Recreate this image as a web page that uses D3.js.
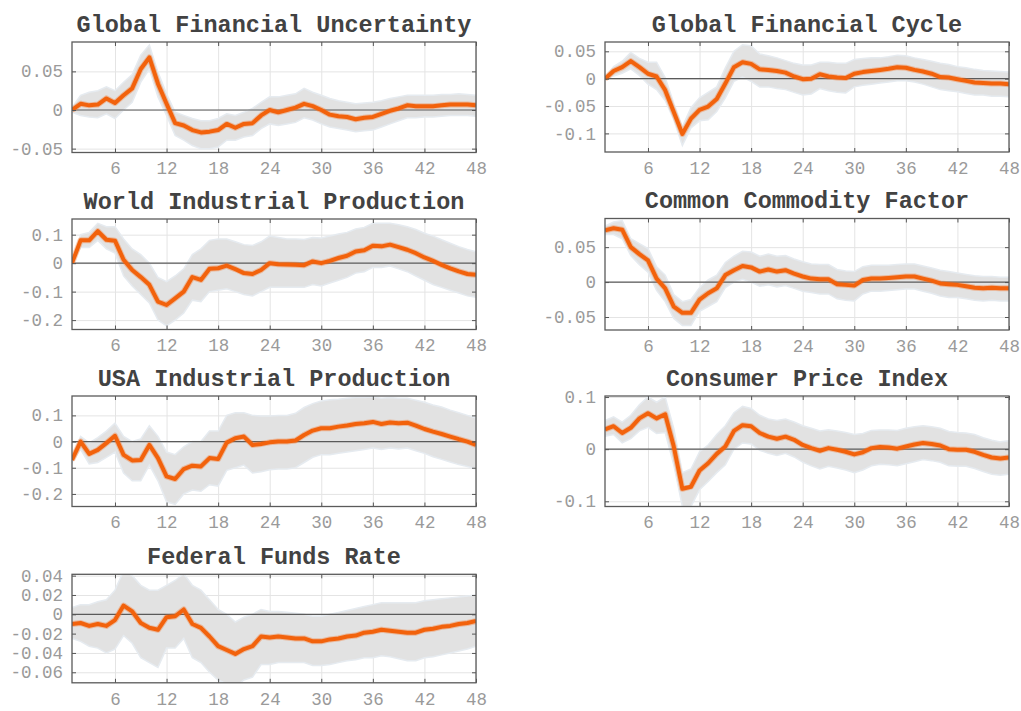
<!DOCTYPE html>
<html>
<head>
<meta charset="utf-8">
<script src="https://cdn.jsdelivr.net/npm/d3@7"></script>
<style>
  html, body { margin: 0; padding: 0; background: #fff; }
  svg { display: block; }
</style>
</head>
<body>
<svg id="chart" width="1021" height="711"></svg>
<script>
// Impulse responses over a 48-month horizon: median with credible band.
const horizons = d3.range(1, 49);
const xTicks = [6, 12, 18, 24, 30, 36, 42, 48];

// Global Financial Uncertainty
const gfuMid = [0.000,0.008,0.006,0.007,0.015,0.009,0.019,0.028,0.053,0.068,0.034,0.008,-0.017,-0.020,-0.026,-0.029,-0.028,-0.026,-0.018,-0.023,-0.018,-0.017,-0.007,0.000,-0.003,0.000,0.003,0.008,0.005,0.000,-0.006,-0.008,-0.009,-0.012,-0.010,-0.009,-0.005,-0.001,0.002,0.006,0.005,0.005,0.005,0.006,0.007,0.007,0.007,0.006];
const gfuHi  = [0.003,0.019,0.023,0.025,0.030,0.025,0.036,0.046,0.071,0.084,0.049,0.021,-0.003,-0.007,-0.011,-0.014,-0.014,-0.011,-0.005,-0.007,-0.003,0.002,0.010,0.017,0.017,0.019,0.021,0.028,0.023,0.019,0.015,0.012,0.010,0.008,0.009,0.010,0.012,0.015,0.017,0.019,0.019,0.019,0.019,0.020,0.020,0.021,0.020,0.019];
const gfuLo  = [-0.003,-0.007,-0.009,-0.010,-0.005,-0.011,0.000,0.010,0.036,0.053,0.017,-0.007,-0.033,-0.039,-0.046,-0.050,-0.050,-0.048,-0.039,-0.039,-0.035,-0.033,-0.024,-0.018,-0.020,-0.018,-0.016,-0.010,-0.013,-0.018,-0.022,-0.024,-0.026,-0.028,-0.027,-0.026,-0.022,-0.018,-0.014,-0.010,-0.010,-0.009,-0.009,-0.008,-0.007,-0.007,-0.007,-0.008];
const gfuTicks = [-0.05, 0, 0.05];

// Global Financial Cycle
const gfcMid = [0.000,0.014,0.021,0.032,0.021,0.009,0.004,-0.021,-0.061,-0.101,-0.073,-0.057,-0.051,-0.037,-0.009,0.021,0.030,0.027,0.017,0.016,0.014,0.011,0.004,-0.001,0.000,0.008,0.004,0.002,0.001,0.009,0.012,0.014,0.016,0.018,0.021,0.020,0.016,0.013,0.009,0.003,0.002,-0.001,-0.004,-0.007,-0.008,-0.009,-0.009,-0.010];
const gfcHi  = [0.002,0.022,0.032,0.048,0.037,0.030,0.030,0.002,-0.045,-0.088,-0.053,-0.035,-0.025,-0.015,0.020,0.050,0.062,0.060,0.045,0.042,0.038,0.033,0.028,0.025,0.025,0.030,0.030,0.028,0.028,0.035,0.037,0.038,0.038,0.040,0.043,0.042,0.038,0.035,0.032,0.028,0.026,0.022,0.020,0.017,0.015,0.014,0.013,0.012];
const gfcLo  = [-0.002,0.005,0.010,0.018,0.006,-0.010,-0.020,-0.040,-0.075,-0.122,-0.090,-0.077,-0.075,-0.060,-0.035,-0.005,0.003,-0.005,-0.015,-0.015,-0.018,-0.020,-0.025,-0.030,-0.028,-0.018,-0.022,-0.025,-0.026,-0.015,-0.012,-0.010,-0.008,-0.006,-0.004,-0.004,-0.006,-0.010,-0.015,-0.020,-0.022,-0.024,-0.027,-0.030,-0.030,-0.032,-0.032,-0.033];
const gfcTicks = [-0.1, -0.05, 0, 0.05];

// World Industrial Production
const wipMid = [0.000,0.080,0.080,0.112,0.082,0.079,0.012,-0.024,-0.049,-0.076,-0.135,-0.147,-0.124,-0.100,-0.049,-0.059,-0.020,-0.018,-0.009,-0.021,-0.035,-0.038,-0.024,0.000,-0.004,-0.005,-0.006,-0.007,0.006,0.000,0.008,0.018,0.026,0.041,0.045,0.061,0.059,0.065,0.056,0.047,0.035,0.020,0.008,-0.006,-0.018,-0.029,-0.038,-0.041];
const wipHi  = [0.003,0.100,0.108,0.140,0.128,0.128,0.085,0.050,0.030,0.000,-0.050,-0.065,-0.045,-0.020,0.030,0.050,0.080,0.085,0.085,0.075,0.065,0.062,0.075,0.095,0.090,0.085,0.085,0.083,0.090,0.088,0.095,0.102,0.108,0.120,0.125,0.140,0.140,0.140,0.135,0.128,0.118,0.105,0.095,0.082,0.070,0.058,0.048,0.040];
const wipLo  = [-0.003,0.055,0.055,0.080,0.050,0.035,-0.045,-0.080,-0.110,-0.140,-0.200,-0.220,-0.200,-0.175,-0.130,-0.135,-0.100,-0.095,-0.090,-0.100,-0.110,-0.115,-0.100,-0.085,-0.085,-0.085,-0.085,-0.085,-0.075,-0.080,-0.070,-0.060,-0.050,-0.035,-0.030,-0.015,-0.015,-0.010,-0.020,-0.030,-0.045,-0.060,-0.075,-0.085,-0.095,-0.105,-0.115,-0.120];
const wipTicks = [-0.2, -0.1, 0, 0.1];

// Common Commodity Factor
const ccfMid = [0.074,0.077,0.075,0.050,0.040,0.031,0.005,-0.009,-0.035,-0.044,-0.044,-0.025,-0.016,-0.009,0.010,0.017,0.023,0.021,0.015,0.018,0.015,0.017,0.012,0.008,0.005,0.004,0.004,-0.003,-0.004,-0.005,0.003,0.005,0.005,0.006,0.007,0.008,0.008,0.005,0.002,-0.002,-0.003,-0.004,-0.006,-0.008,-0.009,-0.008,-0.009,-0.009];
const ccfHi  = [0.080,0.086,0.088,0.062,0.055,0.048,0.022,0.010,-0.018,-0.028,-0.025,-0.008,0.003,0.010,0.028,0.037,0.044,0.043,0.037,0.040,0.037,0.038,0.033,0.029,0.026,0.025,0.025,0.018,0.016,0.015,0.022,0.024,0.024,0.024,0.025,0.026,0.026,0.023,0.020,0.017,0.015,0.013,0.011,0.009,0.008,0.008,0.007,0.007];
const ccfLo  = [0.068,0.068,0.062,0.038,0.025,0.014,-0.012,-0.028,-0.052,-0.062,-0.062,-0.042,-0.035,-0.028,-0.008,0.000,0.004,0.000,-0.006,-0.004,-0.007,-0.005,-0.009,-0.013,-0.015,-0.017,-0.017,-0.024,-0.026,-0.027,-0.017,-0.013,-0.013,-0.012,-0.011,-0.010,-0.010,-0.013,-0.016,-0.020,-0.022,-0.022,-0.024,-0.026,-0.027,-0.026,-0.027,-0.027];
const ccfTicks = [-0.05, 0, 0.05];

// USA Industrial Production
const uipMid = [-0.070,0.000,-0.047,-0.032,-0.006,0.022,-0.051,-0.072,-0.070,-0.013,-0.063,-0.133,-0.143,-0.105,-0.092,-0.095,-0.063,-0.067,-0.004,0.013,0.019,-0.013,-0.009,-0.003,0.000,0.000,0.004,0.025,0.042,0.051,0.051,0.057,0.061,0.067,0.070,0.075,0.067,0.073,0.070,0.072,0.061,0.048,0.038,0.029,0.019,0.009,0.000,-0.013];
const uipHi  = [-0.060,0.020,-0.005,0.015,0.040,0.070,0.020,0.000,0.010,0.060,0.020,-0.040,-0.050,-0.020,0.000,0.000,0.040,0.040,0.100,0.110,0.110,0.100,0.098,0.098,0.100,0.100,0.108,0.130,0.145,0.155,0.160,0.162,0.165,0.168,0.168,0.170,0.165,0.168,0.165,0.165,0.158,0.150,0.140,0.132,0.120,0.110,0.100,0.090];
const uipLo  = [-0.080,-0.030,-0.085,-0.080,-0.060,-0.040,-0.120,-0.150,-0.150,-0.090,-0.150,-0.230,-0.240,-0.200,-0.185,-0.190,-0.165,-0.170,-0.110,-0.100,-0.090,-0.120,-0.115,-0.108,-0.105,-0.105,-0.100,-0.080,-0.060,-0.050,-0.050,-0.045,-0.040,-0.035,-0.030,-0.025,-0.030,-0.025,-0.028,-0.025,-0.035,-0.045,-0.058,-0.068,-0.078,-0.088,-0.095,-0.105];
const uipTicks = [-0.2, -0.1, 0, 0.1];

// Consumer Price Index
const cpiMid = [0.038,0.044,0.031,0.041,0.059,0.069,0.059,0.067,0.005,-0.076,-0.072,-0.041,-0.027,-0.009,0.005,0.035,0.046,0.044,0.031,0.024,0.020,0.024,0.018,0.008,0.002,-0.003,0.002,-0.001,-0.005,-0.010,-0.006,0.002,0.004,0.003,0.001,0.005,0.009,0.012,0.010,0.007,0.000,-0.001,-0.001,-0.005,-0.011,-0.016,-0.018,-0.016];
const cpiHi  = [0.055,0.062,0.052,0.065,0.085,0.100,0.090,0.100,0.040,-0.045,-0.038,-0.005,0.008,0.028,0.045,0.070,0.082,0.078,0.065,0.058,0.055,0.058,0.052,0.045,0.040,0.035,0.037,0.035,0.032,0.028,0.030,0.036,0.037,0.037,0.036,0.040,0.043,0.045,0.043,0.040,0.034,0.032,0.031,0.028,0.022,0.017,0.014,0.016];
const cpiLo  = [0.025,0.028,0.012,0.020,0.035,0.042,0.030,0.032,-0.030,-0.110,-0.110,-0.078,-0.062,-0.045,-0.030,0.000,0.012,0.010,-0.002,-0.008,-0.012,-0.008,-0.015,-0.025,-0.032,-0.038,-0.033,-0.036,-0.040,-0.045,-0.040,-0.032,-0.029,-0.030,-0.032,-0.028,-0.024,-0.020,-0.022,-0.025,-0.032,-0.033,-0.033,-0.037,-0.043,-0.048,-0.050,-0.048];
const cpiTicks = [-0.1, 0, 0.1];

// Federal Funds Rate
const ffrMid = [-0.010,-0.009,-0.012,-0.010,-0.012,-0.006,0.009,0.003,-0.009,-0.014,-0.016,-0.003,-0.002,0.005,-0.010,-0.014,-0.023,-0.033,-0.037,-0.041,-0.036,-0.033,-0.023,-0.024,-0.023,-0.024,-0.025,-0.025,-0.028,-0.028,-0.026,-0.025,-0.023,-0.022,-0.019,-0.018,-0.016,-0.017,-0.018,-0.019,-0.019,-0.016,-0.015,-0.013,-0.012,-0.010,-0.009,-0.007];
const ffrHi  = [0.007,0.010,0.010,0.013,0.015,0.025,0.045,0.040,0.030,0.025,0.025,0.030,0.035,0.042,0.030,0.025,0.015,0.005,0.000,-0.008,-0.003,0.000,0.005,0.003,0.003,0.002,0.001,0.000,-0.002,-0.002,0.000,0.002,0.004,0.006,0.008,0.010,0.012,0.012,0.012,0.012,0.012,0.014,0.015,0.016,0.017,0.018,0.019,0.020];
const ffrLo  = [-0.025,-0.028,-0.033,-0.035,-0.040,-0.036,-0.022,-0.030,-0.045,-0.050,-0.055,-0.035,-0.035,-0.025,-0.045,-0.050,-0.060,-0.068,-0.072,-0.075,-0.068,-0.065,-0.052,-0.052,-0.050,-0.050,-0.050,-0.050,-0.053,-0.053,-0.052,-0.050,-0.048,-0.047,-0.045,-0.045,-0.043,-0.044,-0.046,-0.048,-0.048,-0.045,-0.044,-0.042,-0.040,-0.038,-0.036,-0.033];
const ffrTicks = [-0.06, -0.04, -0.02, 0, 0.02, 0.04];

// Panel layout: box position in pixels plus the y range of each axis
const panels = [
  { title: "Global Financial Uncertainty", mid: gfuMid, hi: gfuHi, lo: gfuLo, ticks: gfuTicks, yDomain: [-0.055, 0.088], left: 72,  top: 42,  height: 110.5 },
  { title: "Global Financial Cycle",       mid: gfcMid, hi: gfcHi, lo: gfcLo, ticks: gfcTicks, yDomain: [-0.134, 0.067], left: 605, top: 42,  height: 110 },
  { title: "World Industrial Production",  mid: wipMid, hi: wipHi, lo: wipLo, ticks: wipTicks, yDomain: [-0.233, 0.155], left: 72,  top: 219, height: 110.5 },
  { title: "Common Commodity Factor",      mid: ccfMid, hi: ccfHi, lo: ccfLo, ticks: ccfTicks, yDomain: [-0.0686, 0.091], left: 605, top: 218.5, height: 111.5 },
  { title: "USA Industrial Production",    mid: uipMid, hi: uipHi, lo: uipLo, ticks: uipTicks, yDomain: [-0.248, 0.174], left: 72,  top: 396, height: 110.5 },
  { title: "Consumer Price Index",         mid: cpiMid, hi: cpiHi, lo: cpiLo, ticks: cpiTicks, yDomain: [-0.110, 0.102], left: 605, top: 396, height: 110.5 },
  { title: "Federal Funds Rate",           mid: ffrMid, hi: ffrHi, lo: ffrLo, ticks: ffrTicks, yDomain: [-0.0709, 0.0414], left: 72, top: 574.3, height: 108.5 }
];

const boxWidth = 404;
const svg = d3.select("#chart");
const fmt = v => (v === 0 ? "0" : String(v));

panels.forEach((p, i) => {
  const w = boxWidth, h = p.height;
  const g = svg.append("g").attr("transform", `translate(${p.left},${p.top})`);
  const x = d3.scaleLinear().domain([1, 48]).range([0, w]);
  const y = d3.scaleLinear().domain(p.yDomain).range([h, 0]);

  const clipId = "clip" + i;
  g.append("clipPath").attr("id", clipId)
    .append("rect").attr("width", w).attr("height", h);

  // grid
  g.append("g").attr("class", "grid")
    .attr("transform", `translate(0,${h})`)
    .call(d3.axisBottom(x).tickValues(xTicks).tickSize(-h).tickFormat(""))
    .call(s => s.select(".domain").remove())
    .call(s => s.selectAll("line").attr("stroke", "#e4e4e4").attr("stroke-width", 1));
  g.append("g").attr("class", "grid")
    .call(d3.axisLeft(y).tickValues(p.ticks).tickSize(-w).tickFormat(""))
    .call(s => s.select(".domain").remove())
    .call(s => s.selectAll("line").attr("stroke", "#e4e4e4").attr("stroke-width", 1));

  const data = horizons.map((hz, k) => ({ hz, mid: p.mid[k], hi: p.hi[k], lo: p.lo[k] }));
  const plot = g.append("g").attr("clip-path", `url(#${clipId})`);

  // credible band
  plot.append("path")
    .datum(data)
    .attr("fill", "#e2e2e2")
    .attr("stroke", "#e6ebf0")
    .attr("stroke-width", 1.5)
    .attr("d", d3.area().x(d => x(d.hz)).y0(d => y(d.lo)).y1(d => y(d.hi)));

  // zero line
  plot.append("line")
    .attr("x1", 0).attr("x2", w)
    .attr("y1", y(0)).attr("y2", y(0))
    .attr("stroke", "#5a5a5a").attr("stroke-width", 1.2);

  // median response
  const line = d3.line().x(d => x(d.hz)).y(d => y(d.mid));
  plot.append("path").datum(data)
    .attr("fill", "none").attr("stroke", "rgba(245,110,30,0.35)")
    .attr("stroke-width", 6).attr("stroke-linejoin", "round")
    .attr("d", line);
  plot.append("path").datum(data)
    .attr("fill", "none").attr("stroke", "#f2620c")
    .attr("stroke-width", 4).attr("stroke-linejoin", "round")
    .attr("d", line);

  // axes with inward ticks
  const styleAxis = s => {
    s.select(".domain").remove();
    s.selectAll(".tick line").attr("stroke", "#555").attr("stroke-width", 1);
    s.selectAll("text")
      .attr("font-family", "'Liberation Mono', 'DejaVu Sans Mono', monospace")
      .attr("font-size", 17.5)
      .attr("fill", "#9a9a9a");
  };
  g.append("g").attr("transform", `translate(0,${h})`)
    .call(d3.axisBottom(x).tickValues(xTicks).tickSize(-4).tickPadding(9.5).tickFormat(d3.format("d")))
    .call(styleAxis);
  g.append("g")
    .call(d3.axisTop(x).tickValues(xTicks).tickSize(-4).tickFormat(""))
    .call(styleAxis);
  g.append("g")
    .call(d3.axisLeft(y).tickValues(p.ticks).tickSize(-4).tickPadding(9).tickFormat(fmt))
    .call(styleAxis);
  g.append("g").attr("transform", `translate(${w},0)`)
    .call(d3.axisRight(y).tickValues(p.ticks).tickSize(-4).tickFormat(""))
    .call(styleAxis);

  // frame
  g.append("rect")
    .attr("width", w).attr("height", h)
    .attr("fill", "none").attr("stroke", "#5a5a5a").attr("stroke-width", 1.3);

  // title
  g.append("text")
    .attr("x", w / 2).attr("y", -10.5)
    .attr("text-anchor", "middle")
    .attr("font-family", "'Liberation Mono', 'DejaVu Sans Mono', monospace")
    .attr("font-weight", "bold")
    .attr("font-size", 23.5)
    .attr("fill", "#424242")
    .text(p.title);
});
</script>
</body>
</html>
